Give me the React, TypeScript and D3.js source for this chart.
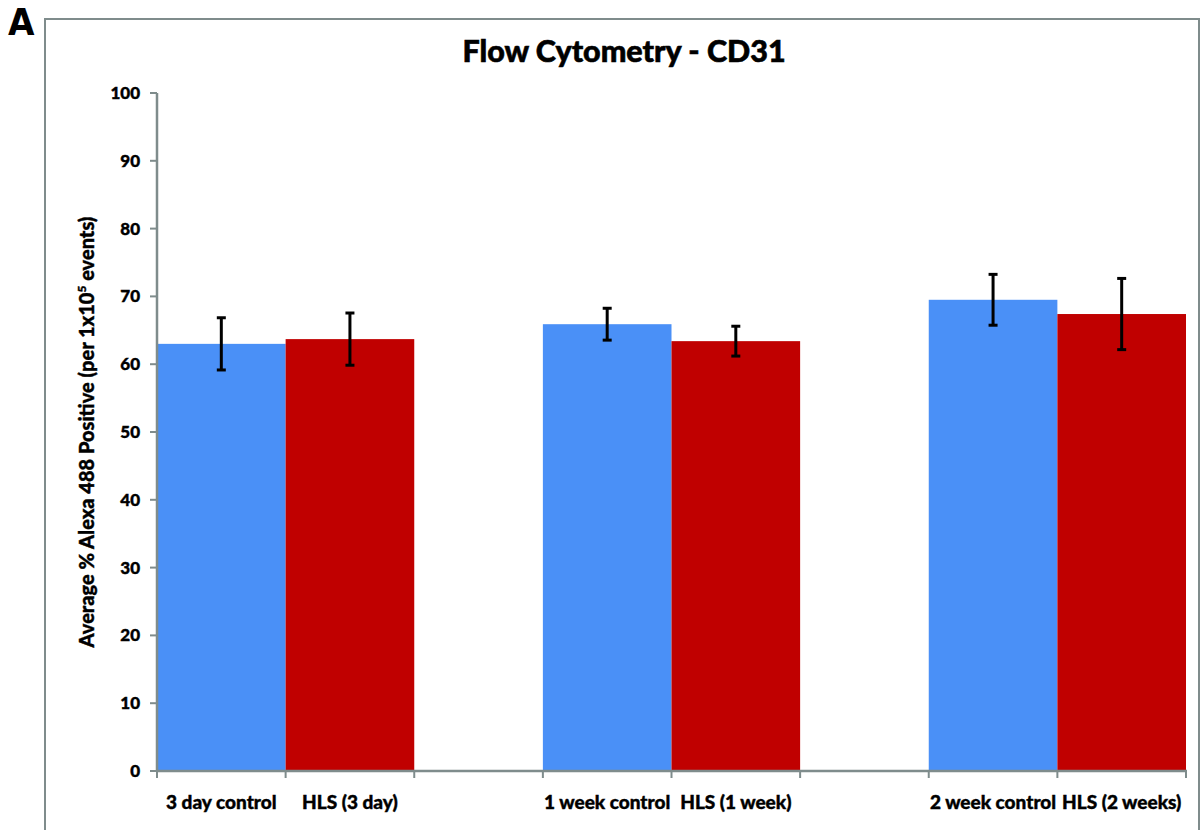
import React from "react";
import * as d3 from "d3";

const categories = ["3 day control", "HLS (3 day)", "", "1 week control", "HLS (1 week)", "", "2 week control", "HLS (2 weeks)"];
const groups = ["control", "hls", "gap", "control", "hls", "gap", "control", "hls"];
const values = [63.0, 63.7, null, 65.9, 63.4, null, 69.5, 67.4];
const errors = [3.85, 3.85, null, 2.35, 2.2, null, 3.75, 5.25];
const yTicks = [0, 10, 20, 30, 40, 50, 60, 70, 80, 90, 100];
const colors: Record<string, string> = { control: "#4a90f7", hls: "#c00000" };

const W = 1204, H = 830;
const left = 157, right = 1186, top = 93, bottom = 771;
const axisColor = "#7f8c8c";
const font = "Lato, 'Open Sans', sans-serif";

export default function App() {
  const x = d3.scaleBand<number>().domain(d3.range(categories.length)).range([left, right]).paddingInner(0).paddingOuter(0);
  const y = d3.scaleLinear().domain([0, 100]).range([bottom, top]);
  const bw = x.bandwidth();
  return (
    <svg width={W} height={H} style={{ position: "absolute", left: 0, top: 0, background: "#fff" }}>
      <rect x={45} y={19} width={1154} height={H} fill="none" stroke={axisColor} strokeWidth={2} />
      <text x={8} y={35} fontFamily="'DejaVu Sans', sans-serif" fontWeight={900} fontSize={38} fill="#000" style={{ fontStretch: "condensed" }}>A</text>
      <text x={624} y={62} textAnchor="middle" fontFamily={font} fontWeight={900} fontSize={30.5} fill="#000" stroke="#000" strokeWidth={0.6}>Flow Cytometry - CD31</text>
      {values.map((v, i) =>
        v == null ? null : (
          <rect key={"b" + i} x={x(i)!} y={y(v)} width={bw} height={bottom - y(v)} fill={colors[groups[i]]} />
        )
      )}
      {values.map((v, i) => {
        if (v == null || errors[i] == null) return null;
        const cx = x(i)! + bw / 2;
        const e = errors[i] as number;
        return (
          <g key={"e" + i} stroke="#000" strokeWidth={3}>
            <line x1={cx} x2={cx} y1={y(v + e)} y2={y(v - e)} />
            <line x1={cx - 4.5} x2={cx + 4.5} y1={y(v + e)} y2={y(v + e)} />
            <line x1={cx - 4.5} x2={cx + 4.5} y1={y(v - e)} y2={y(v - e)} />
          </g>
        );
      })}
      <line x1={left} x2={left} y1={top} y2={bottom} stroke={axisColor} strokeWidth={2.5} />
      <line x1={left} x2={right + 1} y1={bottom} y2={bottom} stroke={axisColor} strokeWidth={2.5} />
      {yTicks.map((t) => (
        <g key={"yt" + t}>
          <line x1={left - 7} x2={left} y1={y(t)} y2={y(t)} stroke={axisColor} strokeWidth={2} />
          <text x={140} y={y(t) + 6} textAnchor="end" fontFamily={font} fontWeight={900} fontSize={17} fill="#000" stroke="#000" strokeWidth={0.4}>{t}</text>
        </g>
      ))}
      {d3.range(categories.length + 1).map((i) => {
        const xx = i < categories.length ? x(i)! : right;
        return <line key={"xt" + i} x1={xx} x2={xx} y1={bottom} y2={bottom + 7} stroke={axisColor} strokeWidth={2} />;
      })}
      {categories.map((c, i) => (
        <text key={"xl" + i} x={x(i)! + bw / 2} y={809} textAnchor="middle" fontFamily={font} fontWeight={900} fontSize={19} fill="#000" stroke="#000" strokeWidth={0.4}>{c}</text>
      ))}
      <text transform={`translate(94,${(top + bottom) / 2}) rotate(-90)`} textAnchor="middle" fontFamily={font} fontWeight={900} fontSize={20} fill="#000" stroke="#000" strokeWidth={0.4}>
        Average % Alexa 488 Positive (per 1x10<tspan dy={-8} fontSize={12}>5</tspan><tspan dy={8}> events)</tspan>
      </text>
    </svg>
  );
}
